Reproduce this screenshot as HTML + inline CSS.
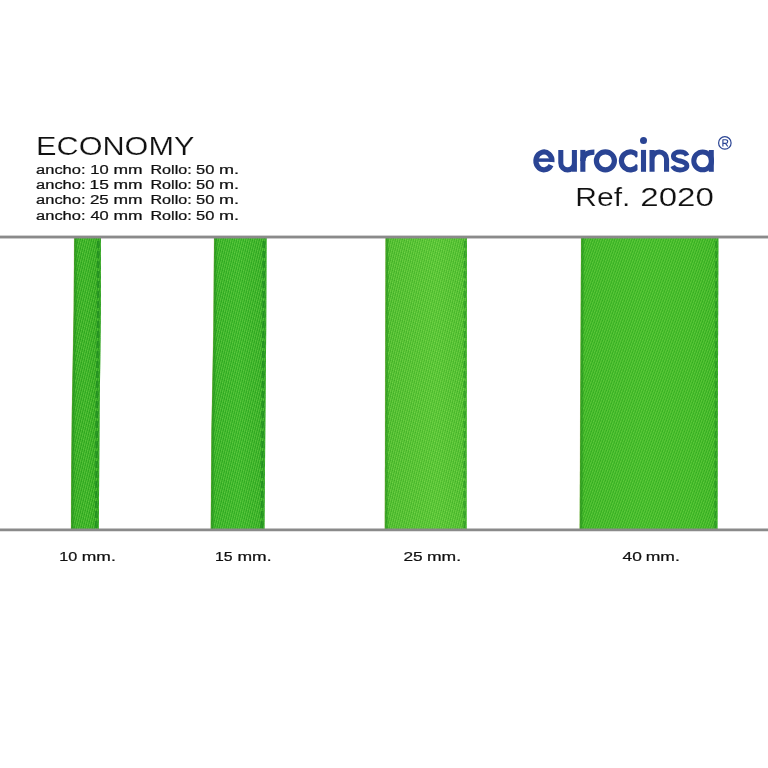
<!DOCTYPE html>
<html>
<head>
<meta charset="utf-8">
<title>Economy Ref. 2020</title>
<style>
html,body{margin:0;padding:0;background:#fff;}
body{width:768px;height:768px;overflow:hidden;font-family:"Liberation Sans",sans-serif;}
svg{display:block;}
text{font-family:"Liberation Sans",sans-serif;}
</style>
</head>
<body>
<svg width="768" height="768" viewBox="0 0 768 768">
<defs>
  <pattern id="dots" width="2.2" height="8" patternUnits="userSpaceOnUse" patternTransform="rotate(14)">
    <rect x="0" y="0" width="1.1" height="8" fill="#b4f878" opacity="0.34"/>
    <rect x="1.1" y="0" width="1.1" height="8" fill="#0c6a10" opacity="0.12"/>
  </pattern>
  <pattern id="rows" width="8" height="2" patternUnits="userSpaceOnUse" patternTransform="rotate(-20)">
    <rect x="0" y="0" width="8" height="1" fill="#0c6a10" opacity="0.13"/>
  </pattern>
  <pattern id="dots2" width="2.3" height="8" patternUnits="userSpaceOnUse" patternTransform="rotate(20)">
    <rect x="0" y="0" width="1.15" height="8" fill="#b4f878" opacity="0.30"/>
    <rect x="1.15" y="0" width="1.15" height="8" fill="#0c6a10" opacity="0.10"/>
  </pattern>
  <pattern id="rows2" width="8" height="2.2" patternUnits="userSpaceOnUse" patternTransform="rotate(-28)">
    <rect x="0" y="0" width="8" height="1.1" fill="#0c6a10" opacity="0.10"/>
  </pattern>
  <linearGradient id="g1" x1="0" x2="1" y1="0" y2="0">
    <stop offset="0" stop-color="#2eac1c"/>
    <stop offset="0.5" stop-color="#33b420"/>
    <stop offset="1" stop-color="#2ca81a"/>
  </linearGradient>
  <linearGradient id="g2" x1="0" x2="1" y1="0" y2="0">
    <stop offset="0" stop-color="#30b220"/>
    <stop offset="0.5" stop-color="#36bb25"/>
    <stop offset="1" stop-color="#2eae1e"/>
  </linearGradient>
  <linearGradient id="g3" x1="0" x2="1" y1="0" y2="0">
    <stop offset="0" stop-color="#4cc02a"/>
    <stop offset="0.3" stop-color="#52c62e"/>
    <stop offset="0.62" stop-color="#58cc32"/>
    <stop offset="1" stop-color="#4dc22b"/>
  </linearGradient>
  <linearGradient id="g4" x1="0" x2="1" y1="0" y2="0">
    <stop offset="0" stop-color="#3ab822"/>
    <stop offset="0.45" stop-color="#3fbe25"/>
    <stop offset="0.8" stop-color="#3dbc23"/>
    <stop offset="1" stop-color="#38b520"/>
  </linearGradient>
  <clipPath id="cc"><rect x="610" y="140" width="27.5" height="40"/></clipPath>
  <filter id="gray" x="0" y="0" width="768" height="768" filterUnits="userSpaceOnUse" color-interpolation-filters="sRGB"><feOffset dx="0" dy="0"/></filter>
</defs>
<rect width="768" height="768" fill="#ffffff"/>

<!-- ribbons -->
<g id="ribbons">
  <polygon points="74.2,238.0 73.7,310.0 72.8,360.0 71.9,410.0 71.3,470.0 71.0,529.0 98.8,529.0 99.2,470.0 99.6,410.0 100.3,360.0 100.9,310.0 100.9,238.0" fill="url(#g1)"/>
  <polygon points="74.2,238.0 73.7,310.0 72.8,360.0 71.9,410.0 71.3,470.0 71.0,529.0 98.8,529.0 99.2,470.0 99.6,410.0 100.3,360.0 100.9,310.0 100.9,238.0" fill="url(#dots)"/>
  <polygon points="74.2,238.0 73.7,310.0 72.8,360.0 71.9,410.0 71.3,470.0 71.0,529.0 98.8,529.0 99.2,470.0 99.6,410.0 100.3,360.0 100.9,310.0 100.9,238.0" fill="url(#rows)"/>
  <polygon points="214.1,238.0 213.4,330.0 211.5,430.0 210.8,529.0 264.5,529.0 265.3,430.0 266.2,330.0 266.6,238.0" fill="url(#g2)"/>
  <polygon points="214.1,238.0 213.4,330.0 211.5,430.0 210.8,529.0 264.5,529.0 265.3,430.0 266.2,330.0 266.6,238.0" fill="url(#dots)"/>
  <polygon points="214.1,238.0 213.4,330.0 211.5,430.0 210.8,529.0 264.5,529.0 265.3,430.0 266.2,330.0 266.6,238.0" fill="url(#rows)"/>
  <polygon points="385.6,238.0 384.8,529.0 466.6,529.0 467.0,238.0" fill="url(#g3)"/>
  <polygon points="385.6,238.0 384.8,529.0 466.6,529.0 467.0,238.0" fill="url(#dots)"/>
  <polygon points="385.6,238.0 384.8,529.0 466.6,529.0 467.0,238.0" fill="url(#rows)"/>
  <polygon points="581.1,238.0 579.7,529.0 717.5,529.0 718.4,238.0" fill="url(#g4)"/>
  <polygon points="581.1,238.0 579.7,529.0 717.5,529.0 718.4,238.0" fill="url(#dots2)"/>
  <polygon points="581.1,238.0 579.7,529.0 717.5,529.0 718.4,238.0" fill="url(#rows2)"/>
  <g fill="none">
    <g stroke="#8a9a30" stroke-width="0.8" opacity="0.45">
      <polyline points="74.4,238.0 73.9,310.0 73.0,360.0 72.1,410.0 71.5,470.0 71.2,529.0"/>
      <polyline points="214.3,238.0 213.6,330.0 211.7,430.0 211.0,529.0"/>
      <polyline points="385.8,238.0 385.0,529.0"/>
      <polyline points="581.3,238.0 579.9,529.0"/>
    </g>
    <g stroke="#258f1e" stroke-width="2.2" opacity="0.55">
      <polyline points="75.6,238.0 75.1,310.0 74.2,360.0 73.3,410.0 72.7,470.0 72.4,529.0"/>
      <polyline points="215.5,238.0 214.8,330.0 212.9,430.0 212.2,529.0"/>
      <polyline points="387.0,238.0 386.2,529.0"/>
      <polyline points="582.5,238.0 581.1,529.0"/>
    </g>
    <g stroke="#27931d" stroke-width="1.4" stroke-dasharray="6 3" opacity="0.25">
      <polyline points="77.0,238.0 76.5,310.0 75.6,360.0 74.7,410.0 74.1,470.0 73.8,529.0"/>
      <polyline points="216.9,238.0 216.2,330.0 214.3,430.0 213.6,529.0"/>
      <polyline points="388.4,238.0 387.6,529.0"/>
      <polyline points="583.9,238.0 582.5,529.0"/>
    </g>
    <g stroke="#2c9a28" stroke-width="1.4" opacity="0.35">
      <polyline points="100.2,238.0 100.2,310.0 99.6,360.0 98.9,410.0 98.5,470.0 98.1,529.0"/>
      <polyline points="265.9,238.0 265.5,330.0 264.6,430.0 263.8,529.0"/>
      <polyline points="466.3,238.0 465.9,529.0"/>
      <polyline points="717.7,238.0 716.8,529.0"/>
    </g>
    <g stroke="#1a8420" stroke-width="2.5" stroke-dasharray="7 3" opacity="0.62">
      <polyline points="98.1,241.0 98.1,310.0 97.5,360.0 96.8,410.0 96.4,470.0 96.0,529.0"/>
      <polyline points="263.8,241.0 263.4,330.0 262.5,430.0 261.7,529.0"/>
    </g>
    <g stroke="#1a8420" stroke-width="1.9" stroke-dasharray="7 3" opacity="0.5">
      <polyline points="464.7,241.0 464.3,529.0"/>
      <polyline points="716.1,241.0 715.2,529.0"/>
    </g>
  </g>
</g>

<!-- rules -->
<rect x="0" y="235.6" width="768" height="2.85" fill="#8a8a8a"/>
<rect x="0" y="528.5" width="768" height="2.75" fill="#8a8a8a"/>

<!-- TEXT-START -->
<g fill="#111" filter="url(#gray)">
<g stroke="#fff" stroke-width="0.2">
<text x="36.14" y="154.70" font-size="26.60" textLength="158.29" lengthAdjust="spacingAndGlyphs">ECONOMY</text>
<text x="575.34" y="205.80" font-size="26.60" textLength="55.00" lengthAdjust="spacingAndGlyphs">Ref.</text>
<text x="640.23" y="205.80" font-size="26.60" textLength="73.66" lengthAdjust="spacingAndGlyphs">2020</text>
</g>
<g stroke="#111" stroke-width="0.22">
<text x="36.10" y="173.90" font-size="12.00" textLength="49.40" lengthAdjust="spacingAndGlyphs">ancho:</text>
<text x="90.34" y="173.90" font-size="12.00" textLength="18.41" lengthAdjust="spacingAndGlyphs">10</text>
<text x="113.44" y="173.90" font-size="12.00" textLength="29.11" lengthAdjust="spacingAndGlyphs">mm</text>
<text x="150.48" y="173.90" font-size="12.00" textLength="41.19" lengthAdjust="spacingAndGlyphs">Rollo:</text>
<text x="196.04" y="173.90" font-size="12.00" textLength="18.30" lengthAdjust="spacingAndGlyphs">50</text>
<text x="218.90" y="173.90" font-size="12.00" textLength="20.05" lengthAdjust="spacingAndGlyphs">m.</text>
<text x="36.10" y="188.80" font-size="12.00" textLength="49.40" lengthAdjust="spacingAndGlyphs">ancho:</text>
<text x="89.47" y="188.80" font-size="12.00" textLength="19.36" lengthAdjust="spacingAndGlyphs">15</text>
<text x="113.44" y="188.80" font-size="12.00" textLength="29.11" lengthAdjust="spacingAndGlyphs">mm</text>
<text x="150.48" y="188.80" font-size="12.00" textLength="41.19" lengthAdjust="spacingAndGlyphs">Rollo:</text>
<text x="196.04" y="188.80" font-size="12.00" textLength="18.30" lengthAdjust="spacingAndGlyphs">50</text>
<text x="218.90" y="188.80" font-size="12.00" textLength="20.05" lengthAdjust="spacingAndGlyphs">m.</text>
<text x="36.10" y="204.40" font-size="12.00" textLength="49.40" lengthAdjust="spacingAndGlyphs">ancho:</text>
<text x="89.95" y="204.40" font-size="12.00" textLength="18.87" lengthAdjust="spacingAndGlyphs">25</text>
<text x="113.44" y="204.40" font-size="12.00" textLength="29.11" lengthAdjust="spacingAndGlyphs">mm</text>
<text x="150.48" y="204.40" font-size="12.00" textLength="41.19" lengthAdjust="spacingAndGlyphs">Rollo:</text>
<text x="196.04" y="204.40" font-size="12.00" textLength="18.30" lengthAdjust="spacingAndGlyphs">50</text>
<text x="218.90" y="204.40" font-size="12.00" textLength="20.05" lengthAdjust="spacingAndGlyphs">m.</text>
<text x="36.10" y="219.60" font-size="12.00" textLength="49.40" lengthAdjust="spacingAndGlyphs">ancho:</text>
<text x="90.42" y="219.60" font-size="12.00" textLength="18.32" lengthAdjust="spacingAndGlyphs">40</text>
<text x="113.44" y="219.60" font-size="12.00" textLength="29.11" lengthAdjust="spacingAndGlyphs">mm</text>
<text x="150.48" y="219.60" font-size="12.00" textLength="41.19" lengthAdjust="spacingAndGlyphs">Rollo:</text>
<text x="196.04" y="219.60" font-size="12.00" textLength="18.30" lengthAdjust="spacingAndGlyphs">50</text>
<text x="218.90" y="219.60" font-size="12.00" textLength="20.05" lengthAdjust="spacingAndGlyphs">m.</text>
<text x="59.37" y="560.80" font-size="12.00" textLength="17.96" lengthAdjust="spacingAndGlyphs">10</text>
<text x="81.84" y="560.80" font-size="12.00" textLength="33.95" lengthAdjust="spacingAndGlyphs">mm.</text>
<text x="215.00" y="560.80" font-size="12.00" textLength="17.57" lengthAdjust="spacingAndGlyphs">15</text>
<text x="237.54" y="560.80" font-size="12.00" textLength="34.06" lengthAdjust="spacingAndGlyphs">mm.</text>
<text x="403.43" y="560.80" font-size="12.00" textLength="19.19" lengthAdjust="spacingAndGlyphs">25</text>
<text x="426.94" y="560.80" font-size="12.00" textLength="34.06" lengthAdjust="spacingAndGlyphs">mm.</text>
<text x="622.50" y="560.80" font-size="12.00" textLength="19.27" lengthAdjust="spacingAndGlyphs">40</text>
<text x="645.74" y="560.80" font-size="12.00" textLength="34.06" lengthAdjust="spacingAndGlyphs">mm.</text>
</g>
</g>
<!-- TEXT-END -->
<!-- logo -->
<g id="logo" fill="none" stroke="#2a4494" stroke-width="5.2" stroke-linecap="butt" stroke-linejoin="round">
  <!-- e -->
  <path d="M536.4,160.1 H552" stroke-width="3.5"/>
  <path d="M551.95,161.9 A8.05,8.9 0 1 0 551.06,165.08"/>
  <!-- u -->
  <path stroke-width="5.05" d="M560.8,149.9 V163.05 A6.8,6.8 0 0 0 574.4,163.05 M574.4,149.9 V171.8"/>
  <!-- r -->
  <path stroke-width="5.1" d="M582.85,149.9 V171.8"/>
  <path stroke-width="5.3" d="M582.85,161 C582.85,154.6 587,152.05 594.4,152.05"/>
  <!-- o -->
  <ellipse cx="605.4" cy="160.85" rx="9.0" ry="8.95"/>
  <!-- c -->
  <path clip-path="url(#cc)" d="M638.2,156.4 A9.0,8.95 0 1 0 638.2,165.3"/>
  <!-- i -->
  <path stroke-width="5.1" d="M643.5,149.9 V171.8"/>
  <!-- n -->
  <path stroke-width="5.1" d="M652.05,149.9 V171.8 M652.05,159.2 A7.25,7.25 0 0 1 666.55,159.2 V171.8"/>
  <!-- s -->
  <path stroke-width="4.9" d="M687.0,155.6 C686,153.2 683.3,151.9 680.2,151.9 C676.6,151.9 673.4,153.4 673.4,156.4 C673.4,159.2 676.3,160.1 680.2,161 C684,161.9 686.9,162.9 686.9,165.7 C686.9,168.6 683.6,169.95 680.0,169.95 C676.4,169.95 673.8,168.6 672.7,166"/>
  <!-- a -->
  <ellipse stroke-width="5.0" cx="702.65" cy="160.9" rx="8.85" ry="8.95"/>
  <path stroke-width="5.0" d="M711.3,150 V171.8"/>
</g>
<circle cx="643.5" cy="140.6" r="3.5" fill="#2a4494"/>
<g id="reg" fill="none" stroke="#2a4494">
  <circle cx="724.85" cy="142.9" r="6.25" stroke-width="1.2"/>
  <path stroke-width="1.15" stroke-linejoin="round" d="M722.9,146.5 V139.75 H725.9 A1.8,1.8 0 0 1 725.9,143.35 H722.9 M725.5,143.35 L727.8,146.5"/>
</g>

</svg>
</body>
</html>
